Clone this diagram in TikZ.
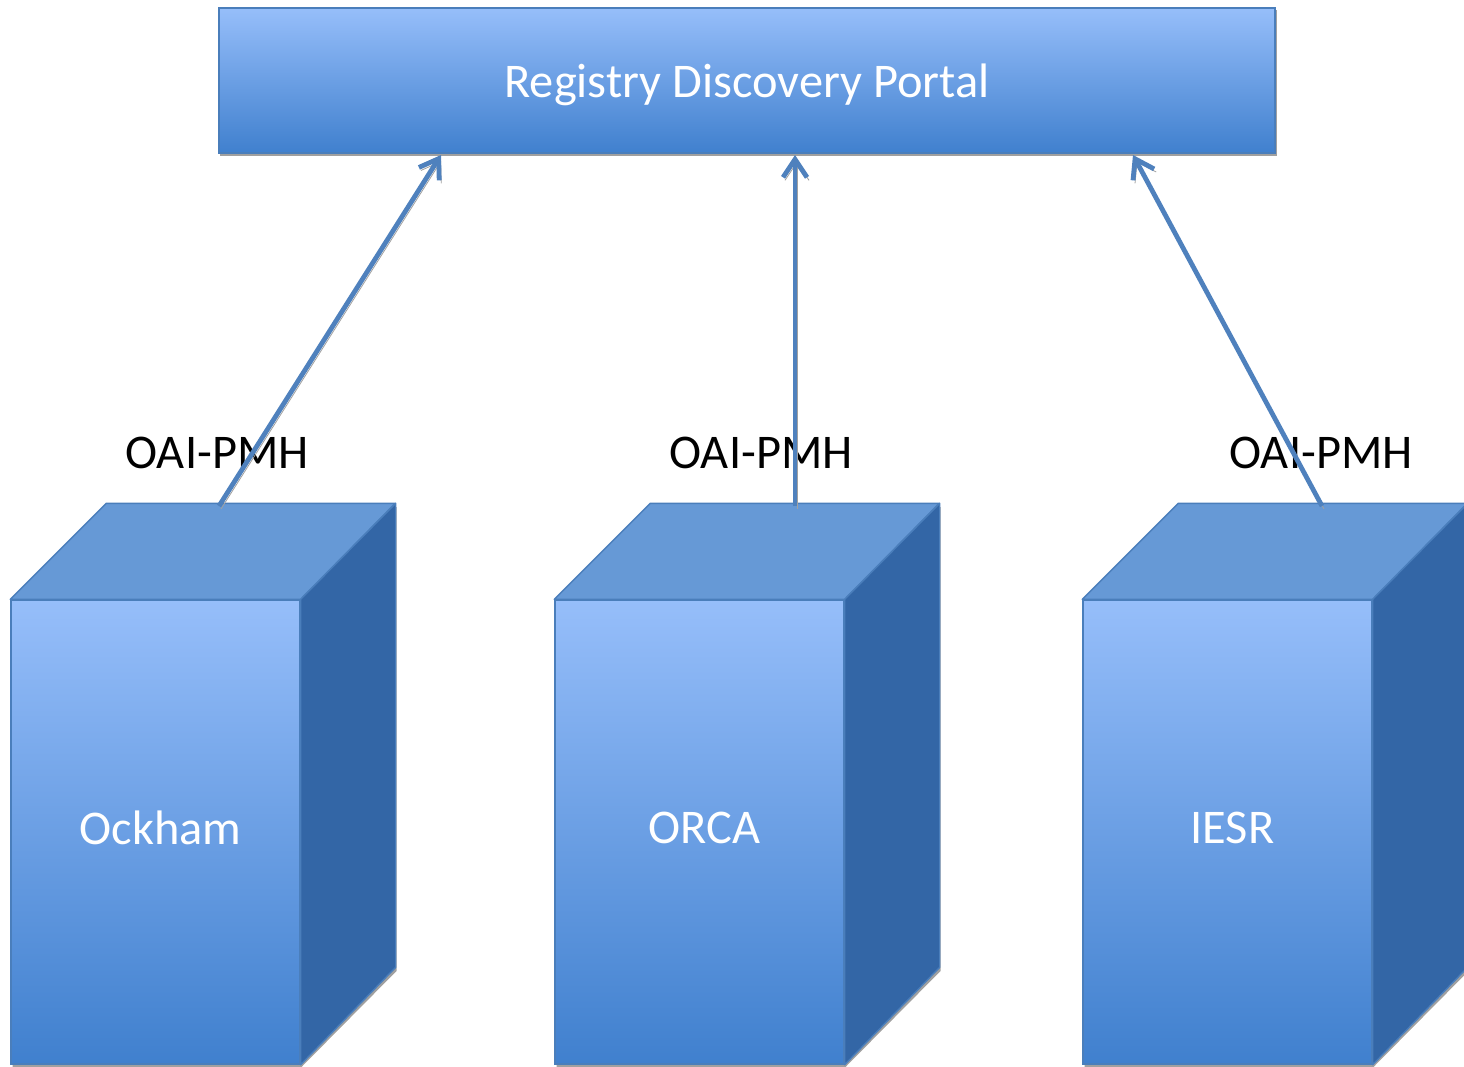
\documentclass[tikz,border=0pt]{standalone}
\usepackage{fontspec}
\setmainfont{Carlito}
\usetikzlibrary{arrows.meta}
\definecolor{lightB}{RGB}{150,190,250}
\definecolor{midB}{RGB}{120,165,232}
\definecolor{darkB}{RGB}{64,128,206}
\definecolor{topB}{RGB}{102,153,214}
\definecolor{sideB}{RGB}{51,102,166}
\definecolor{edgeB}{RGB}{74,126,187}
\definecolor{arrowB}{RGB}{79,129,189}
\definecolor{shadowG}{RGB}{160,160,160}
\begin{document}
\begin{tikzpicture}[x=0.5pt,y=-0.5pt,
  txt/.style={font=\fontsize{24.2}{29}\selectfont},
  front/.style={txt, draw=edgeB, line width=0.7pt, top color=lightB, middle color=midB, bottom color=darkB,
    minimum width=144.5pt, minimum height=232pt, inner sep=0pt, text=white},
  portalbox/.style={txt, draw=edgeB, line width=0.7pt, top color=lightB, middle color=midB, bottom color=darkB,
    minimum width=528pt, minimum height=72.5pt, inner sep=0pt, text=white},
  topface/.style={fill=topB, draw=edgeB, line width=0.7pt, line join=round},
  sideface/.style={fill=sideB, draw=edgeB, line width=0.7pt, line join=round},
  lab/.style={txt, text=black},
  conn/.style={draw=arrowB, line width=2.4pt, -{Straight Barb[length=9pt,width=12pt]},
    preaction={draw=shadowG, transform canvas={shift={(1pt,-1.5pt)}}}}
]
\clip (0,0) rectangle (1464,1067);
% portal
\fill[shadowG] (220,10) rectangle (1277,156);
\node[portalbox] (portal) at (747,80.5) {\raisebox{-2pt}[\height][\depth]{Registry Discovery Portal}};

% boxes
\foreach \nm/\cx/\t in {ock/155.5/Ockham, orca/699.5/ORCA, iesr/1227.5/IESR}{
  \coordinate (\nm c) at (\cx,832);
  \fill[shadowG] ([shift={(1.5,3)}]\nm c) ++(-144.5,-232) -- ++(95,-96) -- ++(289,0) -- ++(0,464) -- ++(-95,96) -- ++(-289,0) -- cycle;
  \node[front] (\nm) at (\nm c) {\hspace*{5pt}\raisebox{4pt}{\t}};
  \filldraw[topface] (\nm.north west) -- ++(96,-96) -- ++(289,0) -- (\nm.north east) -- cycle;
  \filldraw[sideface] (\nm.north east) -- ++(95,-96) -- ++(0,464) -- (\nm.south east) -- cycle;
}

% labels
\node[lab] (l1) at (217,453) {OAI-PMH};
\node[lab] (l2) at (761,453) {OAI-PMH};
\node[lab] (l3) at (1321,453) {OAI-PMH};

% connector end points
\coordinate (s1) at (219,506);
\coordinate (s2) at (795,506);
\coordinate (s3) at (1322,506);
\coordinate (e1) at (441,155);
\coordinate (e2) at (795,155);
\coordinate (e3) at (1133,155);

\draw[conn] (s1) -- (e1);
\draw[conn] (s2) -- (e2);
\draw[conn] (s3) -- (e3);
\end{tikzpicture}
\end{document}
